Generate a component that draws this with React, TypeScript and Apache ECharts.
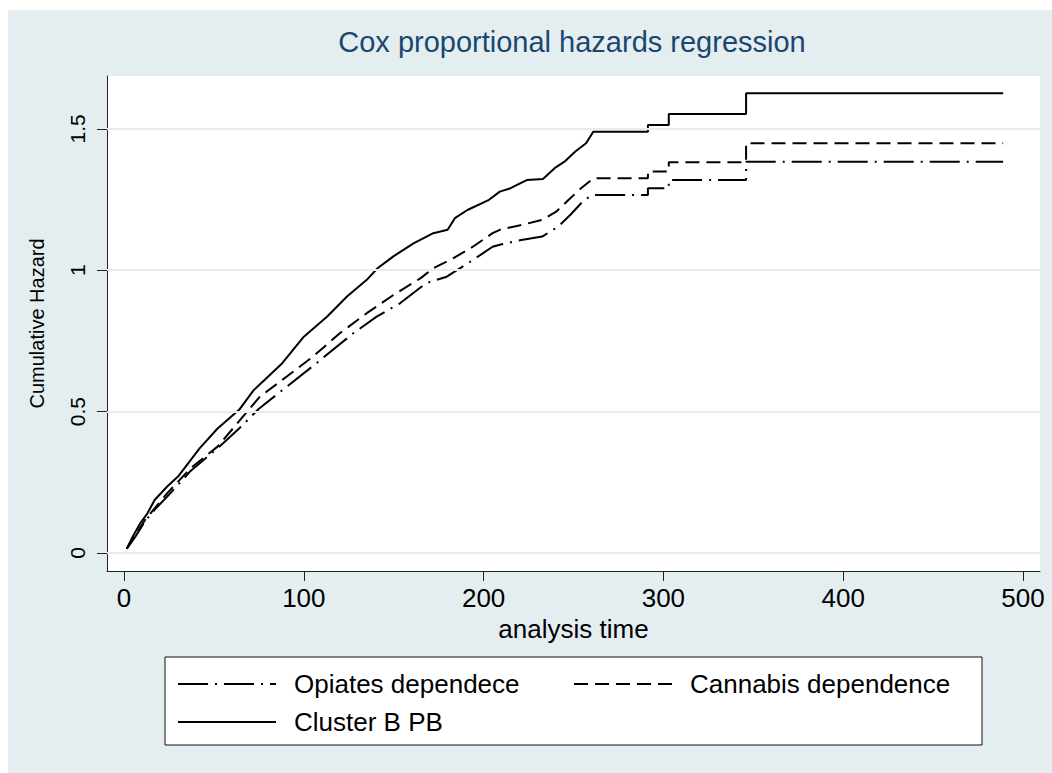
import { useEffect, useRef } from "react";
import * as echarts from "echarts";

const chartTitle = "Cox proportional hazards regression";
const xName = "analysis time";
const yName = "Cumulative Hazard";
const xTicks = [0, 100, 200, 300, 400, 500];
const yTicks = [0, 0.5, 1, 1.5];
const seriesNames = ["Opiates dependece", "Cannabis dependence", "Cluster B PB"];

// Opiates dependence (dash-dot)
const opiatesTime = [1.5, 6, 12, 18, 24, 37, 52, 64, 75, 90.5, 107, 127.5, 140.5, 153.5, 168, 179.5, 194, 205, 209, 221, 232.6, 241.4, 248.3, 256, 261, 291.4, 291.4, 303, 303, 346, 346, 489];
const opiatesHazard = [0.015, 0.055, 0.115, 0.16, 0.199, 0.29, 0.37, 0.44, 0.51, 0.588, 0.671, 0.777, 0.836, 0.883, 0.954, 0.977, 1.036, 1.083, 1.09, 1.107, 1.119, 1.154, 1.196, 1.249, 1.266, 1.266, 1.29, 1.29, 1.319, 1.319, 1.384, 1.384];

// Cannabis dependence (dashed)
const cannabisTime = [1.5, 6, 12, 18, 24, 37, 52, 64, 75.6, 90.5, 105, 120, 135, 150, 165, 172, 183, 194, 205, 209, 221, 232.6, 240.4, 247.3, 254.2, 261, 291.4, 291.4, 303, 303, 346, 346, 489];
const cannabisHazard = [0.015, 0.06, 0.12, 0.165, 0.211, 0.3, 0.376, 0.466, 0.553, 0.624, 0.694, 0.777, 0.848, 0.913, 0.972, 1.007, 1.042, 1.083, 1.131, 1.143, 1.16, 1.178, 1.207, 1.249, 1.29, 1.325, 1.325, 1.349, 1.349, 1.382, 1.382, 1.449, 1.449];

// Cluster B PB (solid)
const clusterTime = [1.5, 5, 9, 13, 17, 24, 30, 42, 52, 64, 72, 88, 100, 113, 124, 135, 141, 150, 161, 172, 180, 184, 191, 203, 209, 215, 224, 233, 239.5, 245, 251, 257, 261, 291.4, 291.4, 303, 303, 346, 346, 489];
const clusterHazard = [0.015, 0.06, 0.105, 0.14, 0.187, 0.235, 0.27, 0.37, 0.44, 0.506, 0.575, 0.671, 0.765, 0.836, 0.907, 0.966, 1.007, 1.05, 1.095, 1.131, 1.143, 1.184, 1.213, 1.249, 1.278, 1.29, 1.319, 1.323, 1.361, 1.384, 1.42, 1.449, 1.49, 1.49, 1.514, 1.514, 1.553, 1.553, 1.626, 1.626];

const FONT = "Liberation Sans, Arial, Helvetica, sans-serif";
const BG = "#E4EEF0";
const GRIDLINE = "#E4EEF0";
const INK = "#000000";

const zip = (t: number[], h: number[]) => t.map((v, i) => [v, h[i]]);

export default function App() {
  const ref = useRef<HTMLDivElement>(null);
  useEffect(() => {
    if (!ref.current) return;
    const chart = echarts.init(ref.current, null, { renderer: "svg" });
    const lineSeries = (name: string, t: number[], h: number[], type: any) => ({
      name,
      type: "line",
      data: zip(t, h),
      symbol: "none",
      showSymbol: false,
      z: 3,
      lineStyle: { color: INK, width: 2, type },
      itemStyle: { color: INK },
    });
    const legendCommon = {
      orient: "horizontal",
      padding: 0,
      itemWidth: 98,
      itemHeight: 20,
      itemStyle: { opacity: 0 },
      textStyle: { fontSize: 26, color: INK, fontFamily: FONT, padding: [0, 0, 0, 13] },
      selectedMode: false,
    };
    chart.setOption({
      animation: false,
      backgroundColor: BG,
      textStyle: { fontFamily: FONT },
      grid: {
        left: 99,
        top: 66,
        right: 12,
        bottom: 202,
        show: true,
        backgroundColor: "#ffffff",
        borderWidth: 0,
      },
      graphic: [
        {
          type: "text",
          x: 564,
          y: 32,
          style: {
            text: chartTitle,
            fontSize: 29,
            fontFamily: FONT,
            fill: "#1A476F",
            textAlign: "center",
            textVerticalAlign: "middle",
          },
        },
        {
          type: "rect",
          z: 0,
          shape: { x: 157, y: 647, width: 817, height: 88 },
          style: { fill: "#ffffff", stroke: "#111", lineWidth: 1 },
        },
      ],
      legend: [
        { ...legendCommon, left: 169, top: 661, data: [seriesNames[0]] },
        { ...legendCommon, left: 565, top: 661, data: [seriesNames[1]] },
        { ...legendCommon, left: 169, top: 699, data: [seriesNames[2]] },
      ],
      xAxis: {
        type: "value",
        min: -9.5,
        max: 509.5,
        name: xName,
        nameLocation: "middle",
        nameGap: 45,
        nameTextStyle: { fontSize: 26, color: INK, fontFamily: FONT },
        axisLine: { show: true, onZero: false, lineStyle: { color: "#222", width: 1 } },
        axisTick: { show: true, length: 10, inside: false, customValues: xTicks, lineStyle: { color: "#222" } },
        axisLabel: { customValues: xTicks, fontSize: 26, color: INK, margin: 14, fontFamily: FONT },
        splitLine: { show: false },
      },
      yAxis: {
        type: "value",
        min: -0.064,
        max: 1.687,
        name: yName,
        nameLocation: "middle",
        nameRotate: 90,
        nameGap: 60,
        nameTextStyle: { fontSize: 20, color: INK, fontFamily: FONT },
        axisLine: { show: true, onZero: false, lineStyle: { color: "#222", width: 1 } },
        axisTick: { show: true, length: 10, inside: false, customValues: yTicks, lineStyle: { color: "#222" } },
        axisLabel: { customValues: yTicks, rotate: 90, fontSize: 21, color: INK, margin: 19, fontFamily: FONT },
        splitLine: { show: false },
      },
      series: [
        {
          name: "gridlines",
          type: "line",
          data: [],
          z: 1,
          silent: true,
          markLine: {
            silent: true,
            symbol: ["none", "none"],
            label: { show: false },
            lineStyle: { color: GRIDLINE, width: 2, type: "solid" },
            data: yTicks.map((v) => ({ yAxis: v })),
          },
        },
        lineSeries(seriesNames[0], opiatesTime, opiatesHazard, [30, 7, 2, 7]),
        lineSeries(seriesNames[1], cannabisTime, cannabisHazard, [14, 7]),
        lineSeries(seriesNames[2], clusterTime, clusterHazard, "solid"),
      ],
    });
    return () => chart.dispose();
  }, []);
  return (
    <div
      ref={ref}
      style={{ position: "fixed", left: 8, top: 10, width: 1044, height: 763 }}
    />
  );
}
